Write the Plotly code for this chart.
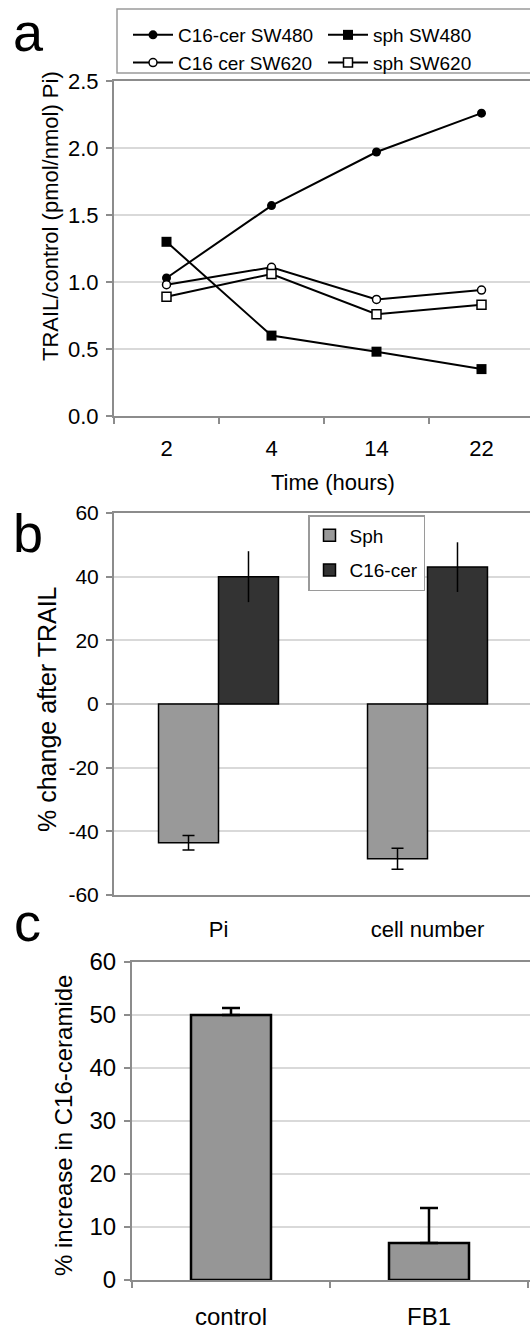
import plotly.graph_objects as go

W, H = 530, 1330
FONT = "Liberation Sans, Arial, Helvetica, sans-serif"

# ---- Panel a data ----
hours = ["2", "4", "14", "22"]
c16_sw480 = [1.03, 1.57, 1.97, 2.26]
sph_sw480 = [1.30, 0.60, 0.48, 0.35]
c16_sw620 = [0.98, 1.11, 0.87, 0.94]
sph_sw620 = [0.89, 1.06, 0.76, 0.83]

# ---- Panel b data ----
b_cats = ["Pi", "cell number"]
b_sph = [-43.6, -48.6]
b_sph_err = [2.3, 3.3]
b_cer = [40.0, 43.0]
b_cer_err = [8.0, 7.8]
b_tickvals = [-60, -40, -20, 0, 20, 40, 60]
b_ticktext = ["-60", "-40", "-20", "0", "20", "40", "60"]

# ---- Panel c data ----
c_cats = ["control", "FB1"]
c_vals = [50.0, 7.0]
c_err = [1.3, 6.6]

def px(x):
    return x / W

def py(y):
    return 1 - y / H

GRID = "#d9d9d9"
AXIS = "#8c8c8c"

fig = go.Figure()

# Panel a traces (order gives 2x2 legend)
fig.add_trace(go.Scatter(x=hours, y=c16_sw480, mode="lines+markers", name="C16-cer SW480",
                         line=dict(color="black", width=2),
                         marker=dict(symbol="circle", size=9, color="black"),
                         xaxis="x", yaxis="y", legend="legend"))
fig.add_trace(go.Scatter(x=hours, y=sph_sw480, mode="lines+markers", name="sph SW480",
                         line=dict(color="black", width=2),
                         marker=dict(symbol="square", size=10, color="black"),
                         xaxis="x", yaxis="y", legend="legend"))
fig.add_trace(go.Scatter(x=hours, y=c16_sw620, mode="lines+markers", name="C16 cer SW620",
                         line=dict(color="black", width=2),
                         marker=dict(symbol="circle", size=8, color="white",
                                     line=dict(color="black", width=1.5)),
                         xaxis="x", yaxis="y", legend="legend"))
fig.add_trace(go.Scatter(x=hours, y=sph_sw620, mode="lines+markers", name="sph SW620",
                         line=dict(color="black", width=2),
                         marker=dict(symbol="square", size=9, color="white",
                                     line=dict(color="black", width=1.5)),
                         xaxis="x", yaxis="y", legend="legend"))

# Panel b traces
bw = 0.287
fig.add_trace(go.Bar(x=b_cats, y=b_sph, name="Sph", width=bw, offset=-bw, legendgroup="sph",
                     marker=dict(color="#999999", line=dict(color="black", width=1.5)),
                     error_y=dict(type="data", array=b_sph_err, color="black", thickness=1.5, width=6),
                     xaxis="x2", yaxis="y2", legend="legend2"))
fig.add_trace(go.Bar(x=b_cats, y=b_cer, name="C16-cer", width=bw, offset=0, legendgroup="cer",
                     marker=dict(color="#333333", line=dict(color="black", width=1.5)),
                     error_y=dict(type="data", array=b_cer_err, color="black", thickness=1.5, width=0),
                     xaxis="x2", yaxis="y2", legend="legend2"))

# Panel c trace
fig.add_trace(go.Bar(x=c_cats, y=c_vals, width=0.404, showlegend=False,
                     marker=dict(color="#969696", line=dict(color="black", width=2.5)),
                     error_y=dict(type="data", symmetric=False, array=c_err, arrayminus=[0, 0],
                                  color="black", thickness=2.5, width=9),
                     xaxis="x3", yaxis="y3"))

def xax(domain, rng, fs, standoff, ticks="outside"):
    return dict(domain=domain, type="category", range=rng, showline=True, linecolor=AXIS,
                linewidth=2, mirror=True, showgrid=False, zeroline=False,
                ticks=ticks, tickson="boundaries", ticklen=6, tickcolor=AXIS, tickwidth=1.5,
                tickfont=dict(size=fs, color="black"), ticklabelstandoff=standoff, fixedrange=True,
                automargin=False)

def yax(domain, rng, dtick, fs, anchor, fmt=None, zeroline=False):
    d = dict(domain=domain, range=rng, dtick=dtick, showline=True, linecolor=AXIS, linewidth=2,
             showgrid=True, gridcolor=GRID, gridwidth=1.5, zeroline=zeroline,
             zerolinecolor="#c8c8c8", zerolinewidth=1.5,
             ticks="outside", ticklen=6, tickcolor=AXIS, tickwidth=1.5,
             tickfont=dict(size=fs, color="black"), ticklabelstandoff=3, anchor=anchor,
             fixedrange=True, automargin=False)
    if fmt:
        d["tickformat"] = fmt
    return d

fig.update_layout(
    width=W, height=H, margin=dict(l=0, r=0, t=0, b=0, autoexpand=False),
    paper_bgcolor="white", plot_bgcolor="white",
    font=dict(family=FONT, color="black"),
    barmode="overlay",
    xaxis=xax([px(114), 1], [-0.5, -0.5 + 416 / 105], 22, 12) | dict(anchor="y"),
    yaxis=yax([py(416), py(81)], [0, 2.5], 0.5, 22, "x", fmt=".1f"),
    xaxis2=xax([px(114), 1], [-0.5, -0.5 + 416 / 209], 22, 14, ticks="") | dict(anchor="y2"),
    yaxis2=yax([py(895), py(513)], [-60, 60], 20, 21, "x2", zeroline=True)
           | dict(tickmode="array", tickvals=b_tickvals, ticktext=b_ticktext),
    xaxis3=xax([px(132), 1], [-0.5, -0.5 + 398 / 198], 24, 14) | dict(anchor="y3"),
    yaxis3=yax([py(1280), py(962)], [0, 60], 10, 24, "x3"),
    legend=dict(orientation="h", x=px(128), y=py(16), xanchor="left", yanchor="top",
                entrywidth=140, entrywidthmode="pixels", font=dict(size=19),
                bgcolor="rgba(0,0,0,0)", borderwidth=0, itemwidth=40, tracegroupgap=0),
    legend2=dict(orientation="v", x=px(308), y=py(515), xanchor="left", yanchor="top",
                 font=dict(size=19), bgcolor="white", bordercolor="#9a9a9a", borderwidth=1.5,
                 traceorder="grouped", tracegroupgap=7, itemwidth=30),
    shapes=[dict(type="rect", xref="paper", yref="paper", x0=px(117), x1=1.05,
                 y0=py(73), y1=py(9), line=dict(color="#9a9a9a", width=1.5))],
    annotations=[
        dict(text="a", x=px(28), y=1, xref="paper", yref="paper", showarrow=False,
             font=dict(size=54), xanchor="center", yanchor="top"),
        dict(text="b", x=px(28), y=py(533), xref="paper", yref="paper", showarrow=False,
             font=dict(size=54), xanchor="center", yanchor="middle"),
        dict(text="c", x=px(27), y=py(922), xref="paper", yref="paper", showarrow=False,
             font=dict(size=54), xanchor="center", yanchor="middle"),
        dict(text="TRAIL/control (pmol/nmol) Pi)", x=px(50), y=py(216), xref="paper", yref="paper",
             showarrow=False, textangle=-90, font=dict(size=22), xanchor="center", yanchor="middle"),
        dict(text="Time (hours)", x=px(333), y=py(482), xref="paper", yref="paper",
             showarrow=False, font=dict(size=22), xanchor="center", yanchor="middle"),
        dict(text="% change after TRAIL", x=px(47), y=py(709), xref="paper", yref="paper",
             showarrow=False, textangle=-90, font=dict(size=25), xanchor="center", yanchor="middle"),
        dict(text="% increase in C16-ceramide", x=px(63), y=py(1126), xref="paper", yref="paper",
             showarrow=False, textangle=-90, font=dict(size=24), xanchor="center", yanchor="middle"),
    ],
)

fig.write_html("out.html", config={"displayModeBar": False},
               post_script="document.body.style.margin='0px';document.body.style.overflow='hidden';")
